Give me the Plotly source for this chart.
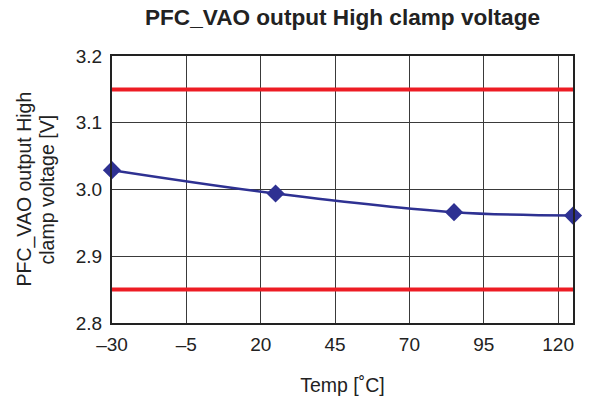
import plotly.graph_objects as go

temps = [-30, 25, 85, 125]
voltage = [3.029, 2.994, 2.966, 2.961]
limit_hi = 3.15
limit_lo = 2.85
x_ticks = [-30, -5, 20, 45, 70, 95, 120]
x_tick_labels = ["\u201330", "\u20135", "20", "45", "70", "95", "120"]
y_ticks = [2.8, 2.9, 3.0, 3.1, 3.2]
y_title_lines = ["PFC_VAO output High", "clamp voltage [V]"]

font = "Liberation Sans, Arial, sans-serif"
L, R, T, B = 112, 22, 56, 85

fig = go.Figure()
for lim in (limit_hi, limit_lo):
    fig.add_trace(go.Scatter(x=[-30, 125], y=[lim, lim], mode="lines",
                             line=dict(color="#ED1C24", width=4),
                             showlegend=False, hoverinfo="skip"))
fig.add_trace(go.Scatter(x=temps, y=voltage, mode="lines+markers",
                         line=dict(color="#2E3192", width=2.5, shape="spline"),
                         marker=dict(symbol="diamond", size=14, color="#2E3192"),
                         showlegend=False, cliponaxis=False))

fig.update_layout(
    width=595, height=408,
    margin=dict(l=L, r=R, t=T, b=B),
    paper_bgcolor="white", plot_bgcolor="white",
    font=dict(family=font, size=19, color="#222"),
    title=dict(text="<b>PFC_VAO output High clamp voltage</b>",
               x=(L + 595 - R) / 2 / 595, xanchor="center",
               y=1 - 17 / 408, yanchor="middle",
               font=dict(size=22.6, color="#222")),
)
for txt, px in zip(y_title_lines, [24, 46]):
    fig.add_annotation(text=txt, xref="paper", yref="paper", x=0, y=0.5,
                       xanchor="center", yanchor="middle", xshift=px - L,
                       textangle=-90, showarrow=False,
                       font=dict(size=19.5, color="#222", family=font))
fig.update_xaxes(range=[-30, 125], tickvals=x_ticks, ticktext=x_tick_labels,
                 showgrid=True, gridcolor="#3a3a3a", gridwidth=1,
                 showline=True, linecolor="#222", linewidth=2, mirror=True,
                 ticks="", zeroline=False, ticklabelstandoff=3,
                 title=dict(text="Temp [\u02daC]", standoff=25,
                            font=dict(size=19.5)))
fig.update_yaxes(range=[2.8, 3.2], tickvals=y_ticks, tickformat=".1f",
                 showgrid=True, gridcolor="#3a3a3a", gridwidth=1,
                 showline=True, linecolor="#222", linewidth=2, mirror=True,
                 ticks="", zeroline=False, ticklabelstandoff=4)

fig.write_html("out.html", config={"displayModeBar": False},
               post_script="document.body.style.margin='0';document.body.style.padding='0';")
